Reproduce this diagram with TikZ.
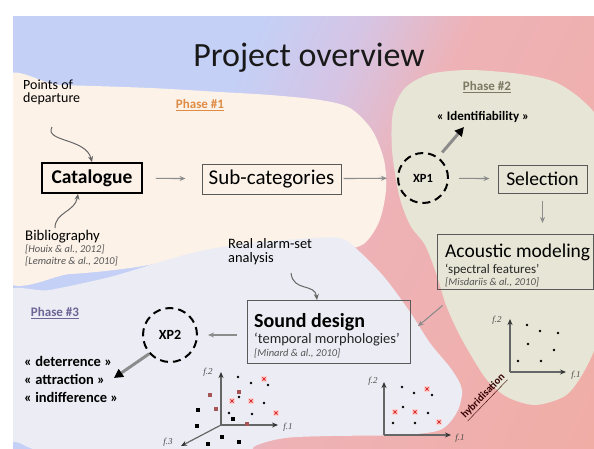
\documentclass[tikz,border=0pt]{standalone}
\usepackage{fontspec}
\setmainfont{Carlito}
\newfontfamily\axisfont{Liberation Serif}
\usetikzlibrary{arrows.meta}
\definecolor{bgblue}{RGB}{196,208,246}
\definecolor{bgpurple}{RGB}{214,196,228}
\definecolor{bgpink}{RGB}{238,178,182}
\definecolor{bgsalmon}{RGB}{242,170,156}
\definecolor{cream}{RGB}{252,242,232}
\definecolor{lav}{RGB}{236,237,244}
\definecolor{beige}{RGB}{231,229,213}
\definecolor{ph1}{RGB}{222,140,70}
\definecolor{ph2}{RGB}{125,122,100}
\definecolor{ph3}{RGB}{110,100,150}
\definecolor{refgray}{RGB}{85,85,85}
\definecolor{redx}{RGB}{215,45,45}
\definecolor{redsq}{RGB}{165,85,85}
\pgfdeclarehorizontalshading{bgshade}{100bp}{color(0bp)=(bgblue); color(38bp)=(bgblue); color(47bp)=(bgpurple); color(56bp)=(bgpink); color(100bp)=(bgsalmon)}
\newcommand{\fs}[1]{\fontsize{#1}{#1}\selectfont}
\tikzset{
  box/.style={draw=black!65, line width=1pt, inner sep=0pt},
  garrow/.style={draw=black!45, line width=1.1pt, -{Stealth[length=6pt,width=5pt]}},
  carrow/.style={draw=black!60, line width=1pt, -{Stealth[length=6pt,width=5pt]}},
  bigarrow/.style={draw=black!45, line width=3pt, -{Triangle[length=9pt,width=9pt,color=black]}},
  xpcircle/.style={circle, draw=black, line width=2pt, dash pattern=on 8pt off 5pt, inner sep=0pt},
  axisline/.style={draw=black!60, line width=1.2pt, -{Stealth[length=6pt,width=5pt,color=black!80]}},
  axislabel/.style={font=\axisfont\itshape\fs{9}, text=black!70, inner sep=1pt},
  phase/.style={font=\bfseries\fs{13}, inner sep=1pt},
  ref/.style={font=\itshape\fs{10.5}, text=refgray, inner sep=0pt, anchor=base west},
  quote/.style={font=\bfseries\fs{14.5}, inner sep=0pt, anchor=base west}
}
\begin{document}
\begin{tikzpicture}[x=1pt,y=-1pt]
\useasboundingbox (0,0) rectangle (594,448);
\fill[white] (0,0) rectangle (594,448);
\begin{scope}
\clip (13,16) rectangle (594,448);
\shade[shading=bgshade, shading angle=-25] (13,16) rectangle (594,448);
\fill[cream] plot[smooth cycle] coordinates {(0,84) (60,85) (150,88) (220,92) (270,95) (320,100) (350,108) (372,130) (384,160) (386,190) (379,222) (362,245) (330,250) (260,252) (190,258) (130,268) (70,274) (0,274)};
\fill[lav] plot[smooth cycle] coordinates {(0,298) (50,290) (110,277) (160,262) (200,251) (250,243) (300,239) (340,238) (360,252) (385,278) (410,312) (430,343) (452,370) (462,390) (457,412) (440,430) (400,435) (330,436) (285,438) (255,446) (235,462) (80,462) (45,453) (22,444) (0,425)};
\fill[beige] plot[smooth cycle] coordinates {(393,112) (405,88) (430,74) (470,70) (520,74) (555,82) (582,100) (600,125) (610,200) (605,300) (596,345) (582,375) (565,396) (535,405) (507,397) (487,380) (472,357) (458,332) (446,305) (436,273) (425,245) (410,225) (399,195) (392,150)};
\end{scope}

% title and phase labels
\node[font=\fs{34}, text=black!90, anchor=base] (title) at (309,66) {Project overview};
\node[phase, text=ph1] (p1) at (200,105) {\underline{Phase \#1}};
\node[phase, text=ph2] (p2) at (487,87) {\underline{Phase \#2}};
\node[phase, text=ph3] (p3) at (55,313) {\underline{Phase \#3}};

% phase 1
\node[font=\fs{14}, align=left, anchor=base west, inner sep=0pt] (pod) at (23,102) {Points of\\[-1pt]departure};
\node[draw=black, line width=1.6pt, font=\bfseries\fs{19.5}, minimum width=100pt, minimum height=30pt, inner sep=0pt] (cat) at (92,178) {Catalogue};
\node[box, font=\fs{21}, minimum width=139pt, minimum height=30pt] (sub) at (271.5,179) {Sub-categories};
\node[font=\fs{14.8}, anchor=base west, inner sep=0pt] (bib) at (25,240) {Bibliography};
\node[ref] (houix) at (25,252) {[Houix \& al., 2012]};
\node[ref] (lem) at (25,264) {[Lemaitre \& al., 2010]};
\coordinate (podend) at (52,127);
\coordinate (bibstart) at (55,228);
\draw[carrow] (podend) .. controls (44,142) and (86,138) .. (cat.north);
\draw[carrow] (bibstart) .. controls (55,212) and (75,212) .. ([xshift=-14pt]cat.south);

% phase 2
\node[xpcircle, minimum size=50pt, font=\bfseries\fs{12.5}] (xp1) at (423,178) {XP1};
\node[box, font=\fs{19.5}, minimum width=89pt, minimum height=28pt] (sel) at (542.5,179) {Selection};
\node[font=\bfseries\fs{13}, inner sep=0pt] (ident) at (483,117) {« Identifiability »};
\coordinate (idtip) at (464,127);
\node[box, minimum width=156pt, minimum height=55pt, anchor=north west] (acou) at (437,234) {};
\node[font=\fs{19.5}, anchor=base west, inner sep=0pt] (acout) at (445,257) {Acoustic modeling};
\node[font=\fs{13}, anchor=base west, inner sep=0pt, text=black!85] (acouf) at (445,273) {‘spectral features’};
\node[ref] (misd) at (445,285) {[Misdariis \& al., 2010]};

% phase 3
\node[box, minimum width=163pt, minimum height=63pt, anchor=north west] (sound) at (247,300) {};
\node[font=\bfseries\fs{20}, anchor=base west, inner sep=0pt] (soundt) at (254,327) {Sound design};
\node[font=\fs{14.5}, anchor=base west, inner sep=0pt, text=black!85] (soundf) at (254,343) {‘temporal morphologies’};
\node[ref] (minard) at (254,356) {[Minard \& al., 2010]};
\node[font=\fs{14.4}, align=left, anchor=base west, inner sep=0pt] (real) at (228,262) {Real alarm-set\\[-1pt]analysis};
\coordinate (realend) at (291,273);
\draw[carrow] (realend) .. controls (293,292) and (315,283) .. (sound.north -| 317,0);
\node[xpcircle, minimum size=54pt, font=\bfseries\fs{14}] (xp2) at (170,335) {XP2};
\node[quote] (det) at (24,366) {« deterrence »};
\node[quote] (att) at (24,384) {« attraction »};
\node[quote] (ind) at (24,402) {« indifference »};
\coordinate (dettip) at (114,378);

% connectors
\draw[garrow, shorten <=13pt, shorten >=16pt] (cat) -- (sub);
\draw[garrow, shorten <=2pt, shorten >=10pt] (sub) -- (xp1);
\draw[garrow, shorten <=10pt, shorten >=8pt] (xp1) -- (sel);
\draw[garrow, shorten <=7pt, shorten >=11pt] (sel.south) -- (sel.south |- acou.north);
\draw[garrow, shorten <=24pt, shorten >=9pt] ([xshift=24pt]acou.south west) -- (sound.east);
\draw[garrow, shorten <=10pt, shorten >=10pt] (sound.west |- xp2) -- (xp2);
\draw[bigarrow, shorten <=6pt] (xp1.54) -- (idtip);
\draw[bigarrow] (xp2.222) -- (dettip);

% 3D scatter (phase 3)
\coordinate (o3) at (221,425);
\draw[axisline] (o3) -- (221,372);
\draw[axisline] (o3) -- (278,425);
\draw[axisline] (o3) -- (181,446);
\node[axislabel] at (208,372) {f.2};
\node[axislabel] at (288,427) {f.1};
\node[axislabel] at (168,442) {f.3};
\foreach \p in {(238,377),(251,383),(268,385),(239,397),(264,403),(229,413),(252,414)} \fill \p circle (1.4);
\foreach \p in {(198,410),(197,426),(233,419),(222,437),(239,442),(208,444)} \fill \p ++(-2.4,-2.4) rectangle ++(4.8,4.8);
\foreach \p in {(210,395),(239,392),(216,409),(247,424)} \fill[redsq] \p ++(-2.4,-2.4) rectangle ++(4.8,4.8);
\foreach \p in {(264,379),(232,401),(251,401),(276,413)} {\fill[red!18] \p ++(-2.6,-2.6) rectangle ++(5.2,5.2); \draw[redx, line width=0.9pt] \p ++(-1.6,-1.6) -- ++(3.2,3.2) \p ++(-1.6,1.6) -- ++(3.2,-3.2);}

% 2D scatter (phase 3)
\coordinate (o2) at (384,435);
\draw[axisline] (o2) -- (384,382);
\draw[axisline] (o2) -- (451,435);
\node[axislabel] at (373,381) {f.2};
\node[axislabel] at (460,438) {f.1};
\foreach \p in {(402,387),(414,393),(432,395),(403,407),(428,413),(393,423),(415,423)} \fill \p circle (1.4);
\foreach \p in {(427,389),(395,412),(415,412),(439,422)} {\fill[red!18] \p ++(-2.6,-2.6) rectangle ++(5.2,5.2); \draw[redx, line width=0.9pt] \p ++(-1.6,-1.6) -- ++(3.2,3.2) \p ++(-1.6,1.6) -- ++(3.2,-3.2);}

% 2D scatter (phase 2)
\coordinate (o1) at (510,372);
\draw[axisline] (o1) -- (510,319);
\draw[axisline] (o1) -- (566,372);
\node[axislabel] at (497,320) {f.2};
\node[axislabel] at (576,375) {f.1};
\foreach \p in {(527,325),(540,331),(558,333),(528,344),(554,350),(518,361),(541,361)} \fill \p circle (1.4);

\node[font=\bfseries\fs{10.5}, text=black!80!red, rotate=46, inner sep=0pt] (hyb) at (484,397) {\underline{hybridisation}};
\end{tikzpicture}
\end{document}
